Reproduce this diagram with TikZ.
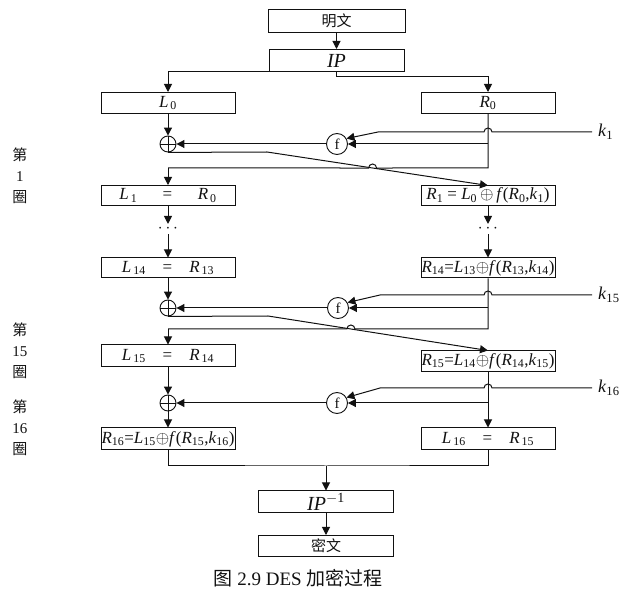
\documentclass[tikz,border=0pt]{standalone}
\usepackage{fontspec}
\setmainfont{Liberation Serif}
\newfontfamily\cjk{Noto Sans CJK SC}
\usepackage{xcolor}
\definecolor{cInk}{HTML}{111111}
\usepackage{tikz}
\usetikzlibrary{positioning,arrows.meta,calc}
\newcommand{\fsz}[1]{\fontsize{#1}{#1}\selectfont}
\newcommand{\vsub}[2]{\textit{#1}\textsubscript{#2}}
\tikzset{
  node-box/.style={draw=cInk,line width=1pt,minimum width=134pt,minimum height=21pt,
    inner sep=0pt,align=center,font=\fsz{17}},
  node-text/.style={node-box,font=\cjk\fsz{15}},
  node-xor/.style={circle,draw=cInk,line width=0.9pt,minimum size=16pt,inner sep=0pt,
    path picture={\draw[cInk,line width=0.9pt]
      (path picture bounding box.north) -- (path picture bounding box.south)
      (path picture bounding box.west) -- (path picture bounding box.east);}},
  node-f/.style={circle,draw=cInk,line width=0.9pt,minimum size=21pt,inner sep=0pt,font=\fsz{15}},
  node-key/.style={inner sep=0pt,font=\fsz{18}},
  node-dots/.style={inner sep=1pt,font=\fsz{17}},
  % 左侧的轮次标注：第 / n / 圈
  node-round/.style={align=center,inner sep=0pt,font=\fontsize{15}{21}\selectfont},
  wire/.style={line width=1pt,draw=cInk},
  arrow/.style={wire,-{Triangle[length=8pt,width=8pt]}},
}

\begin{document}
\begin{tikzpicture}[x=1pt,y=-1pt,every node/.style={text=cInk}]
  \useasboundingbox (0,0) rectangle (625,596);
  % 初始置换
  \node[node-text,minimum width=137pt,minimum height=23pt] (pt) at (336.5,21) {明文};
  \node[node-box,minimum width=135pt,minimum height=22pt,font=\fsz{20},below=16pt of pt] (ip) {\textit{IP}};
  \node[node-box] (l0) at (168,103) {\vsub{L}{\,0}};
  \node[node-box] (r0) at (488,103) {\vsub{R}{0}};
  \coordinate (ipr) at (488,77);
  \draw[arrow] (pt) -- (ip);
  \draw[arrow] (ip.south west) -| (l0);
  \draw[arrow] (ip.south) |- (ipr) -- (r0);

  % 第 1 圈
  \node[node-xor] (xor1) at (168,144) {};
  \node[node-f] (f1) at (337,144) {f};
  \coordinate (k1in) at (592,132);
  \coordinate (k1bd) at (378,132);
  \coordinate (c1) at (488,168);
  \coordinate (c1l) at (168,168);
  \coordinate (o1) at (267,152);
  \coordinate (r1in) at (488,185.5);
  \coordinate (h1) at (intersection of o1--r1in and c1--c1l);
  \node[node-key,right=6pt of k1in] (k1) {\vsub{k}{1}};
  \node[node-box,minimum height=20pt] (l1) at (168,195.5) {\vsub{L}{\,1}\enspace\quad=\quad\enspace\vsub{R}{\,0}};
  \node[node-box,minimum height=20pt] (r1) at (488,195.5)
    {\vsub{R}{1} = \vsub{L}{0}\,$\oplus$\,\textit{f}(\vsub{R}{0},\vsub{k}{1})};
  \draw[arrow] (l0) -- (xor1);
  \draw[arrow] (f1) -- (xor1);
  \draw[arrow] (r0.south |- f1) -- (f1);
  \draw[arrow] (k1in) -- ($(r0.south |- k1in)+(4,0)$) arc[start angle=0,end angle=180,radius=4pt]
    -- (k1bd) -- (f1.30);
  \draw[wire] (r0) -- (c1) -- ($(h1)+(4,0)$) arc[start angle=0,end angle=180,radius=4pt] -- (c1l);
  \draw[arrow] (c1l) -- (l1);
  \draw[arrow] (xor1.south) -- (o1) -- (r1in);

  % 中间各圈省略
  \node[node-dots] (ld) at (168,229) {$\cdots$};
  \node[node-dots] (rd) at (488,229) {$\cdots$};
  \node[node-box,minimum height=20pt] (l14) at (168,268) {\vsub{L}{\,14}\quad=\quad\vsub{R}{\,13}};
  \node[node-box,minimum height=20pt] (r14) at (488,268)
    {\vsub{R}{14}=\vsub{L}{13}$\oplus$\textit{f}(\vsub{R}{13},\vsub{k}{14})};
  \draw[arrow] (l1) -- (ld);
  \draw[arrow] (ld) -- (l14);
  \draw[arrow] (r1) -- (rd);
  \draw[arrow] (rd) -- (r14);

  % 第 15 圈
  \node[node-xor] (xor15) at (168,308) {};
  \node[node-f] (f15) at (338,308) {f};
  \coordinate (k15in) at (592,295);
  \coordinate (k15bd) at (380,295);
  \coordinate (c15) at (488,329);
  \coordinate (c15l) at (168,329);
  \coordinate (o15) at (268,316);
  \coordinate (r15in) at (488,350.5);
  \coordinate (h15) at (intersection of o15--r15in and c15--c15l);
  \node[node-key,right=6pt of k15in] (k15) {\vsub{k}{15}};
  \node[node-box,minimum height=22pt] (l15) at (168,356) {\vsub{L}{\,15}\quad=\quad\vsub{R}{\,14}};
  \node[node-box,minimum height=21pt] (r15) at (488,361)
    {\vsub{R}{15}=\vsub{L}{14}$\oplus$\textit{f}(\vsub{R}{14},\vsub{k}{15})};
  \draw[arrow] (l14) -- (xor15);
  \draw[arrow] (f15) -- (xor15);
  \draw[arrow] (r14.south |- f15) -- (f15);
  \draw[arrow] (k15in) -- ($(r14.south |- k15in)+(4,0)$) arc[start angle=0,end angle=180,radius=4pt]
    -- (k15bd) -- (f15.30);
  \draw[wire] (r14) -- (c15) -- ($(h15)+(4,0)$) arc[start angle=0,end angle=180,radius=4pt] -- (c15l);
  \draw[arrow] (c15l) -- (l15);
  \draw[arrow] (xor15.south) -- (o15) -- (r15in);

  % 第 16 圈（不交换）
  \node[node-xor] (xor16) at (168,403) {};
  \node[node-f] (f16) at (337,403) {f};
  \coordinate (k16in) at (592,388);
  \coordinate (k16bd) at (380,388);
  \node[node-key,right=6pt of k16in] (k16) {\vsub{k}{16}};
  \node[node-box,minimum height=22pt] (r16) at (168,439)
    {\vsub{R}{16}=\vsub{L}{15}$\oplus$\textit{f}(\vsub{R}{15},\vsub{k}{16})};
  \node[node-box,minimum height=22pt] (l16) at (488,439) {\vsub{L}{\,16}\quad=\quad\vsub{R}{\,15}};
  \draw[arrow] (l15) -- (xor16);
  \draw[arrow] (xor16) -- (r16);
  \draw[arrow] (f16) -- (xor16);
  \draw[arrow] (r15.south |- f16) -- (f16);
  \draw[arrow] (r15) -- (l16);
  \draw[arrow] (k16in) -- ($(r15.south |- k16in)+(4,0)$) arc[start angle=0,end angle=180,radius=4pt]
    -- (k16bd) -- (f16.30);

  % 逆初始置换
  \coordinate (jn) at (326,466);
  \node[node-box,minimum width=135pt,minimum height=22pt,font=\fsz{20}] (ipinv) at (326,502)
    {\textit{IP}\textsuperscript{$-$1}};
  \node[node-text,minimum width=135pt] (ct) at (326,546) {密文};
  \draw[wire] (r16) |- (jn) -| (l16);
  \draw[arrow] (jn) -- (ipinv);
  \draw[arrow] (ipinv) -- (ct);

  \node[node-round] (lab1) at (20,176) {{\cjk 第}\\1\\{\cjk 圈}};
  \node[node-round] (lab15) at (20,351) {{\cjk 第}\\15\\{\cjk 圈}};
  \node[node-round] (lab16) at (20,428) {{\cjk 第}\\16\\{\cjk 圈}};
  \node[font=\fsz{19}] (cap) at (298,578) {{\cjk 图} 2.9 DES {\cjk 加密过程}};
\end{tikzpicture}
\end{document}
